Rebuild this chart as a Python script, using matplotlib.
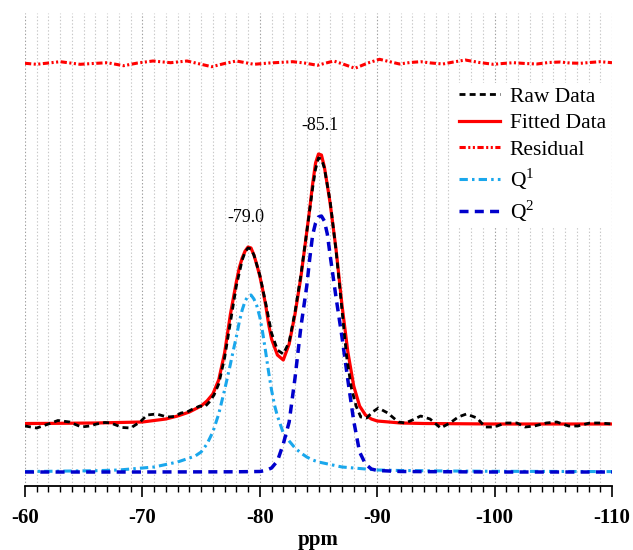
import matplotlib
matplotlib.use("Agg")
import matplotlib.pyplot as plt
from matplotlib.ticker import MultipleLocator
from matplotlib.lines import Line2D

plt.rcParams['font.family'] = ['Liberation Serif', 'DejaVu Serif']
plt.rcParams['mathtext.fontset'] = 'custom'
plt.rcParams['mathtext.rm'] = 'Liberation Serif'
plt.rcParams['lines.scale_dashes'] = False

# ---------------- data (ppm, intensity a.u.) ----------------
raw_ppm = [-60, -61, -62, -62.8, -63.8, -64.8, -65.5, -66.1, -66.8, -67.3, -68.3, -69, -69.8,
           -70.4, -71.2, -72.1, -72.7, -73.3, -73.8, -74.3, -74.9, -75.3, -75.7, -76.1, -76.5,
           -77, -77.5, -78, -78.5, -78.75, -79, -79.25, -79.5, -80, -80.5, -81, -81.5, -82,
           -82.5, -83, -83.5, -84, -84.5, -84.75, -85, -85.25, -85.5, -86, -86.5, -87, -87.4,
           -87.8, -88.2, -88.6, -89.1, -89.6, -90.1, -90.9, -91.8, -92.4, -93, -93.7, -94.5,
           -95.4, -96.2, -96.9, -97.6, -98.5, -99.2, -100, -100.9, -101.9, -102.6, -103.4,
           -104.4, -105.3, -106.3, -107.1, -108.1, -109, -110]
raw_val = [46, 44, 48, 51.5, 50, 45, 46, 48, 49.5, 49, 44.5, 44, 50,
           57, 58, 55, 55.5, 59, 60, 63, 66, 65, 70, 77, 88,
           114, 150, 186, 212, 220, 224, 223, 217, 197, 169, 139, 122, 118,
           130, 160, 197, 240, 284, 303, 314, 313, 304, 270, 221, 162, 115,
           84, 66, 55, 54, 60, 64, 59, 50, 49, 52, 56, 53,
           44, 49, 55, 58, 54, 45, 45, 49, 49, 45, 46,
           49, 50, 46, 46, 49, 49, 48]

fit_ppm = [-60, -62, -64, -66, -68, -70, -71, -72, -73, -74, -75, -75.5, -76, -76.5, -77,
           -77.5, -78, -78.25, -78.5, -78.75, -79, -79.25, -79.5, -79.75, -80, -80.25, -80.5,
           -80.75, -81, -81.5, -82, -82.5, -83, -83.5, -84, -84.25, -84.5, -84.75, -85, -85.25,
           -85.5, -85.75, -86, -86.5, -87, -87.5, -88, -88.5, -89, -89.5, -90, -91, -92, -94,
           -100, -110]
fit_val = [48.5, 48.6, 48.8, 49, 49.5, 50, 51.5, 53, 56, 60, 66, 71, 78, 92, 119,
           158, 190, 204, 214, 221, 225, 224, 217, 207, 196, 182, 167,
           148, 133, 117, 112, 128, 158, 195, 240, 263, 288, 309, 318, 317,
           305, 287, 268, 222, 167, 120, 86, 66, 57, 53, 51, 50, 49, 48.5,
           48, 48]

res_ppm = [-60, -61, -63, -64.7, -65.8, -67, -68.4, -69.6, -70.9, -72.4, -73.8, -74.9, -75.9,
           -77, -78, -79.5, -80.8, -82.8, -83.8, -84.9, -86.3, -87.2, -88.1, -89.2, -90.2,
           -91.9, -92.8, -93.7, -94.6, -95.6, -96.5, -97.5, -98.7, -99.9, -100.7, -101.6,
           -102.6, -103.6, -104.6, -105.6, -106.4, -107.3, -108.1, -109, -110]
res_val = [408.7, 407.7, 410.3, 407.7, 408.5, 409.3, 406.3, 409, 411, 409.3, 411, 408, 405.3,
           408.5, 411, 407.7, 409, 410.3, 409, 406.7, 411, 407.5, 403.7, 409, 412.7,
           408, 409.5, 410.3, 409, 408, 410, 412, 409.5, 407.7, 408.5, 409.3,
           408.5, 408, 409.5, 410, 409, 408.7, 409.5, 410.3, 409.3]

q1_ppm = [-60, -62, -64, -66, -68, -70, -71, -72, -73, -74, -74.5, -75, -75.5, -76, -76.5,
          -77, -77.5, -77.75, -78, -78.25, -78.5, -78.75, -79, -79.25, -79.5, -79.75, -80,
          -80.25, -80.5, -80.75, -81, -81.25, -81.5, -82, -82.5, -83, -83.5, -84, -84.5, -85,
          -86, -87, -88, -89, -90, -92, -96, -100, -110]
q1_val = [0.5, 0.7, 1, 1.3, 2, 4, 5, 7.5, 10, 14, 16, 20, 28, 40, 58,
          82, 108, 122, 135, 150, 162, 171, 176, 177, 173, 166, 155,
          139, 120, 100, 82, 67, 56, 39, 31, 24, 19, 15, 12, 10,
          7.5, 5, 4, 3, 2, 1.5, 1, 0.7, 0.4]

q2_ppm = [-60, -70, -78, -80, -80.5, -81, -81.5, -82, -82.5, -83, -83.5, -84, -84.25, -84.5,
          -84.75, -85, -85.25, -85.5, -85.75, -86, -86.5, -87, -87.5, -88, -88.5, -89, -89.5,
          -90, -92, -100, -110]
q2_val = [0, 0, 0.2, 0.5, 1.5, 4, 11, 28, 50, 94, 145, 186, 213, 237,
          249, 255, 256, 251, 238, 216, 174, 135, 92, 51, 20, 8, 3,
          1.5, 0.5, 0, 0]

peak_labels = ["-79.0", "-85.1"]
peak_pos = [(-78.85, 255), (-85.13, 347)]

legend_labels = ["Raw Data", "Fitted Data", "Residual", r"Q$^{1}$", r"Q$^{2}$"]
xticks = [-60, -70, -80, -90, -100, -110]

# ---------------- figure ----------------
fig = plt.figure(figsize=(6.33, 5.5), dpi=100)
ax = fig.add_axes([25 / 633, 64 / 550, 587 / 633, 473 / 550])

c_raw = 'black'
c_fit = '#FF0000'
c_q1 = '#1AA7EC'
c_q2 = '#0000CC'

ax.plot(fit_ppm, fit_val, color=c_fit, lw=2.3, solid_capstyle='butt', zorder=3)
ax.plot(raw_ppm, raw_val, color=c_raw, lw=2.0, dashes=(4.3, 3.0), zorder=4)
ax.plot(res_ppm, res_val, color=c_fit, lw=2.2, dashes=(4.5, 1.8, 1.5, 1.8, 1.5, 1.8), zorder=3)
ax.plot(q1_ppm, q1_val, color=c_q1, lw=2.2, dashes=(6, 3, 1.8, 3), zorder=3)
ax.plot(q2_ppm, q2_val, color=c_q2, lw=2.5, dashes=(6.5, 4.5), zorder=3)

for t, (px, py) in zip(peak_labels, peak_pos):
    ax.text(px, py, t, ha='center', va='center', fontsize=13)

ax.set_xlim(-60, -110)
ax.set_ylim(-14, 459)
ax.set_xticks(xticks)
ax.set_xticklabels([str(v) for v in xticks], fontweight='bold', fontsize=15)
ax.xaxis.set_minor_locator(MultipleLocator(1))
ax.tick_params(axis='x', which='major', direction='out', length=8, width=1.2, pad=8)
ax.tick_params(axis='x', which='minor', direction='out', length=4.3, width=1.0)
ax.set_yticks([])
for s in ['left', 'right', 'top']:
    ax.spines[s].set_visible(False)
ax.spines['bottom'].set_linewidth(1.3)

ax.grid(axis='x', which='minor', color='#c8c8c8', linestyle=(0, (1, 1.5)), lw=0.8, zorder=0)
ax.grid(axis='x', which='major', color='#a0a0a0', linestyle=(0, (1, 1.5)), lw=0.8, zorder=0)
ax.set_axisbelow(True)

ax.set_xlabel('ppm', fontweight='bold', fontsize=15, labelpad=1)

handles = [
    Line2D([], [], color=c_raw, lw=2.0, dashes=(4.3, 3.0)),
    Line2D([], [], color=c_fit, lw=2.3),
    Line2D([], [], color=c_fit, lw=2.2, dashes=(4.5, 1.8, 1.5, 1.8, 1.5, 1.8)),
    Line2D([], [], color=c_q1, lw=2.2, dashes=(6, 3, 1.8, 3)),
    Line2D([], [], color=c_q2, lw=2.5, dashes=(6.5, 4.5)),
]
leg = ax.legend(handles, legend_labels, loc='upper right', bbox_to_anchor=(0.997, 0.853),
                fontsize=15.5, frameon=True, framealpha=1, facecolor='white', edgecolor='none',
                fancybox=False, handlelength=1.9, handletextpad=0.45, labelspacing=0.3,
                borderpad=0.2, borderaxespad=0)
leg.set_zorder(5)

fig.savefig('out.png', dpi=100)
